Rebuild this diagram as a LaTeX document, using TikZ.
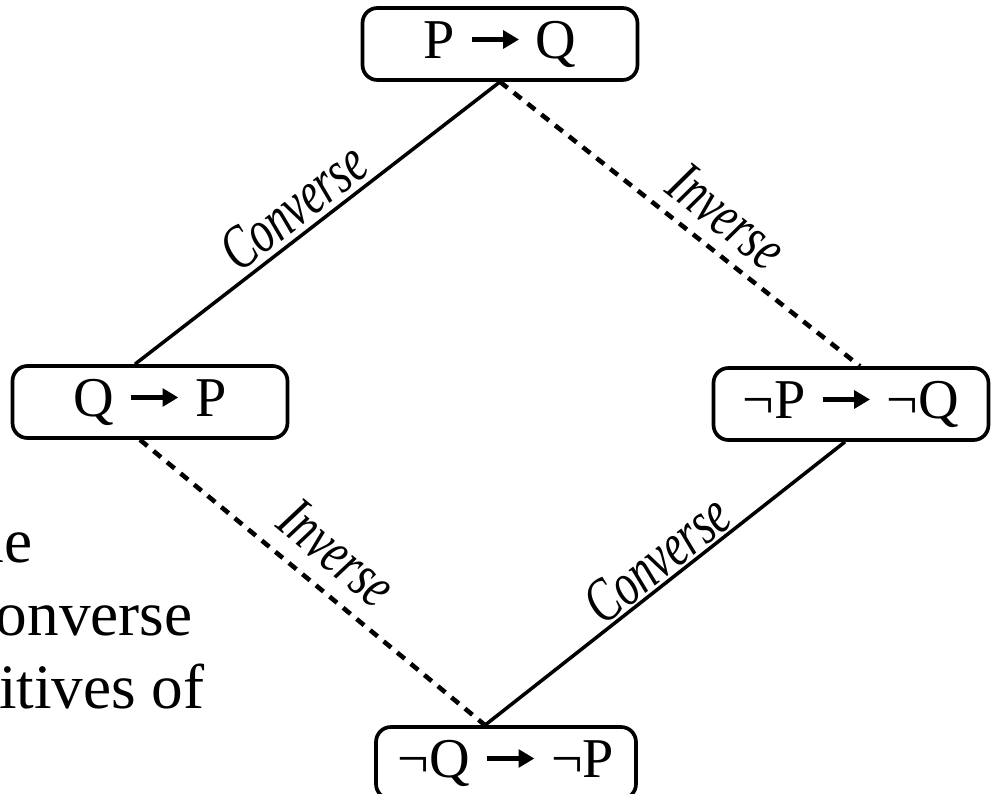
\documentclass[tikz,border=0pt]{standalone}
\usepackage{fontspec}
\setmainfont{Liberation Serif}
\newfontfamily\lblfont{Liberation Serif}[FakeStretch=0.72]
\usepackage{tikz}
\usetikzlibrary{arrows.meta, positioning}

\newcommand{\imp}{\tikz[baseline=-0.33em, sharp corners]\draw[line width=3pt, -{Triangle[length=9pt, width=10pt]}] (0,0) -- (27pt,0);}

\begin{document}
\begin{tikzpicture}[x=0.02cm, y=-0.02cm,
  prop/.style={draw, line width=2.1pt, rounded corners=8.5pt, minimum width=5.5cm, minimum height=1.44cm, inner sep=0pt, font=\fontsize{32}{38}\selectfont},
  side/.style={anchor=base east, inner sep=0pt, font=\fontsize{36}{41}\selectfont},
  lbl/.style={sloped, inner sep=0pt, font=\lblfont\itshape\fontsize{35}{40}\selectfont},
  conv/.style={line width=2pt},
  inv/.style={line width=2.6pt, dash pattern=on 5.5pt off 4.5pt}
]
  \useasboundingbox (0,0) rectangle (992,794);
  \clip (0,0) rectangle (992,794);

  % Text cut off at the left edge
  \node[side] (s1) at (33,562) {he};
  \node[side] (s2) at (193,635) {onverse};
  \node[side] (s3) at (205,708) {itives of};

  % Statements
  \node[prop] (pq) at (500,44) {P \imp{} Q};
  \node[prop] (qp) at (150,402) {Q \imp{} P};
  \node[prop] (npnq) at (851,404) {¬P \imp{} ¬Q};
  \node[prop, minimum width=5.2cm] (nqnp) at (506,763) {¬Q \imp{} ¬P};

  % Connections
  \draw[conv] ([xshift=-0.3cm]qp.north) -- node[lbl, above=3pt, pos=0.48] (c1) {Converse} (pq.south);
  \draw[inv] (pq.south) -- node[lbl, above=7pt, pos=0.57] (i1) {Inverse} ([xshift=0.18cm]npnq.north);
  \draw[inv] ([xshift=-0.2cm]qp.south) -- node[lbl, above=9pt, pos=0.5] (i2) {Inverse} ([xshift=-0.42cm]nqnp.north);
  \draw[conv] ([xshift=-0.42cm]nqnp.north) -- node[lbl, above=1pt, pos=0.52] (c2) {Converse} ([xshift=-0.12cm]npnq.south);
\end{tikzpicture}
\end{document}
